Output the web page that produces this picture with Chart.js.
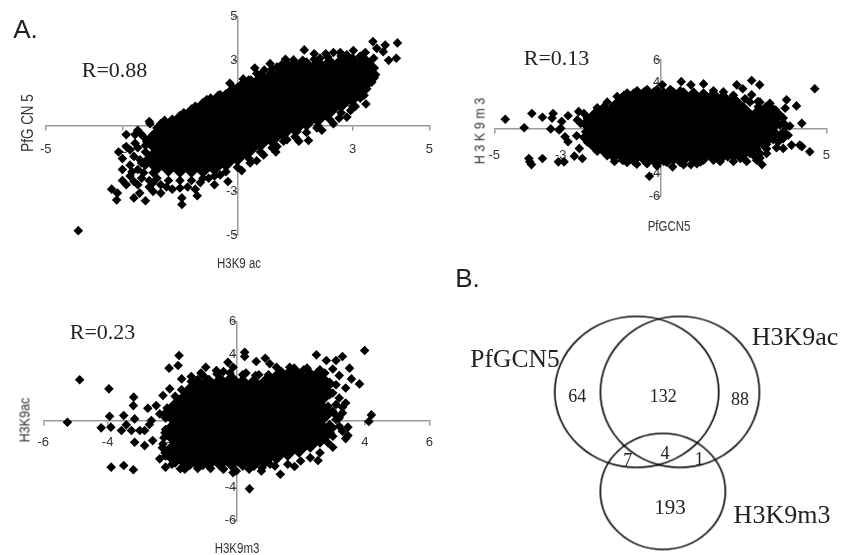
<!DOCTYPE html>
<html>
<head>
<meta charset="utf-8">
<script src="https://cdn.jsdelivr.net/npm/chart.js@4"></script>
<style>
  html, body { margin: 0; background: #fff; }
  #page { position: relative; width: 845px; height: 555px; overflow: hidden; filter: blur(0.35px); }
  canvas { position: absolute; left: 0; top: 0; }
  .t { position: absolute; white-space: nowrap; transform: translate(-50%, -50%); color: #222; line-height: 1; }
  .serif { font-family: "Liberation Serif", serif; }
  .letter { font-family: "Liberation Sans", sans-serif; font-size: 26px; color: #222; }
  .ax { font-family: "Liberation Sans", sans-serif; font-size: 14px; color: #333; transform: translate(-50%, -50%) scaleX(0.82); }
  .rot { transform: translate(-50%, -50%) rotate(-90deg) scaleX(0.84); }
</style>
</head>
<body>
<div id="page">
  <canvas id="panelA1" width="845" height="555"></canvas>
  <canvas id="panelA2" width="845" height="555"></canvas>
  <canvas id="panelA3" width="845" height="555"></canvas>
  <canvas id="venn" width="845" height="555"></canvas>
</div>
<script>
// Los puntos se leyeron a ojo de la figura. La nube es tan densa que "core" usa
// rombos grandes para la zona negra y "edge" los rombos sueltos del borde.
const a1Core = [[-2.1,-1.55],[-2.1,-.7],[-1.8,-1.65],[-1.8,-.85],[-1.8,-.35],[-1.5,-1.7],[-1.5,-.9],[-1.5,-.1],[-1.5,0],[-1.2,-1.7],[-1.2,-.9],[-1.2,-.1],[-1.2,.3],[-.9,-1.7],[-.9,-.9],[-.9,-.1],[-.9,.6],[-.6,-1.6],[-.6,-.8],[-.6,0],[-.6,.75],[-.3,-1.4],[-.3,-.6],[-.3,.2],[-.3,1],[0,-1.15],[0,-.4],[0,.4],[0,1.3],[.3,-.8],[.3,0],[.3,.8],[.3,1.55],[.6,-.5],[.6,.3],[.6,1.1],[.6,1.8],[.9,-.3],[.9,.5],[.9,1.3],[.9,2],[1.2,0],[1.2,.8],[1.2,1.5],[1.2,2.2],[1.5,.2],[1.5,1],[1.5,1.7],[1.5,2.4],[1.8,.45],[1.8,1.2],[1.8,1.9],[1.8,2.45],[2.1,.65],[2.1,1.4],[2.1,2.1],[2.1,2.5],[2.4,1],[2.4,1.8],[2.4,2.55],[2.7,1.3],[2.7,2],[2.7,2.6],[3,1.6],[3,2.2],[3,2.65],[3.3,2.2],[3.3,2.65]];
const a1Edge = [[-4.15,-4.8],[-3.28,-2.9],[-3.15,-3.4],[-3.13,-3.08],[-2.7,-3.3],[-2.4,-3.43],[-3,-2.5],[-2.7,-2.55],[-2.55,-3.08],[-2.2,-3],[-2,-3.08],[-1.45,-3.6],[-1.45,-3.3],[-1.05,-3.2],[-.97,-2.6],[-.25,-2.55],[-.45,-2.25],[.11,-2.05],[-1.5,-2.85],[-1.85,-2.8],[-.75,-2.4],[-2.9,-.4],[-2.67,-.4],[-3.1,-1.2],[-3,-1.5],[-2.9,-.95],[-2.67,-.8],[-2.7,-1.4],[-2.3,.2],[-2.28,.1],[-1.9,.25],[-2.2,-.4],[-2.35,-.8],[-2.1,-.8],[-2.54,-1.55],[-2.6,-2],[-2.8,-2.3],[-2.45,-2.15],[-2.2,-2.15],[-2.27,-1.4],[-1.97,-.5],[-1.75,-.3],[-1.5,.43],[-1.23,.6],[-.97,.9],[-.7,1.27],[-.45,1.42],[-.1,1.72],[.29,2.1],[.5,2.4],[.7,2.56],[1.03,2.7],[1.15,2.8],[1.46,3.02],[1.74,3.48],[1.68,2.95],[2.15,3.1],[2.5,3.36],[2.68,3.36],[3.02,3.45],[2.85,3.25],[3.33,3.36],[3.53,3.86],[3.63,3.55],[3.85,3.7],[3.8,3.4],[4.17,3.8],[4.14,3.1],[3.94,3],[3.55,3.1],[3.46,2.7],[3.6,2.34],[3.42,1.95],[3.2,2.26],[3.2,1.27],[3.07,.89],[2.85,.4],[2.72,1.1],[2.5,1.5],[2.42,.9],[2.15,.5],[2.07,-.1],[1.85,-.67],[1.55,-.26],[1.29,-.64],[1.03,-.95],[.68,-1.33],[.33,-1.7],[2.94,1.34],[3.37,1.7],[2.85,1.8],[2.24,1.2],[-2.4,-1.8],[-2.4,-1.2],[-2.4,-.9],[-2.5,-2.4],[-2.1,-2.4],[-1.8,-2.5],[-1.5,-2.5],[-1.2,-2.5],[-.9,-2.4],[-.6,-2.3],[-.3,-2.1],[0,-1.9],[.3,-1.5],[.6,-1.2],[.9,-1],[1.2,-.7],[1.5,-.5],[1.8,-.3],[2.1,0],[2.4,.3],[2.7,.6],[3,.9],[3.3,1.4],[3.5,2],[-2,.1],[-1.7,.3],[-1.4,.6],[-1.1,.9],[-.8,1.2],[-.5,1.4],[-.2,1.6],[.1,1.9],[.35,2.1],[.6,2.35],[.9,2.6],[1.3,2.85],[1.7,3],[2,3.05],[2.35,3.15],[2.7,3.2],[3.2,3.2],[-2.6,-1],[-2.8,-1.8],[-3,-2],[-2.2,-2.6],[-1.9,-.2],[-2.5,-.4],[-2.9,-2.7],[-2.6,-2.7],[-2.3,-2.5],[-2,-2.7],[-1.7,-2.9],[-1.3,-2.8],[-1.1,-2.9],[-.6,-2.7],[-2.3,-2.8],[-2.75,-2.1],[-2.5,-1.7],[-2.8,-1.1],[-2.45,-.5],[-2.6,-.2],[-2.1,-.1],[-.2,1.95],[.15,2.15],[.45,2.65],[.85,2.85],[1.25,3.05],[2,3.3],[2.3,3.3],[2.9,3.1],[1.6,-.7],[2.2,-.2],[2.5,.1],[2.65,.35],[2.95,.7],[3.15,1.6],[3.35,1],[1,-1.2],[.5,-1.6]];

const a2Core = [[-2,-.8],[-2,.4],[-1.7,-1.2],[-1.7,0],[-1.7,1],[-1.4,-1.7],[-1.4,-.3],[-1.4,1.1],[-1.1,-1.9],[-1.1,-.6],[-1.1,.8],[-1.1,2],[-.8,-2],[-.8,-.5],[-.8,1],[-.8,2.2],[-.5,-1.9],[-.5,-.5],[-.5,.9],[-.5,2.3],[-.2,-2],[-.2,-.6],[-.2,.8],[-.2,2.3],[.1,-2],[.1,-.5],[.1,1],[.1,2.3],[.4,-1.9],[.4,-.6],[.4,.8],[.4,2.3],[.7,-2],[.7,-.5],[.7,1],[.7,2.3],[1,-1.9],[1,-.6],[1,.8],[1,2.3],[1.3,-1.9],[1.3,-.5],[1.3,1],[1.3,2.2],[1.6,-1.8],[1.6,-.6],[1.6,.8],[1.6,2.2],[1.9,-1.6],[1.9,-.3],[1.9,1],[1.9,2],[2.2,-1.6],[2.2,-.5],[2.2,.7],[2.2,1.8],[2.5,-1.2],[2.5,0],[2.5,1],[2.8,-.9],[2.8,.2],[3.1,-.6],[3.1,.5]];
const a2Edge = [[-4.67,.8],[-4.1,.05],[-3.87,1.3],[-3.55,.97],[-3.3,-.05],[-3.23,1.3],[-3.26,.9],[-2.97,.6],[-3,0],[-3.05,-.15],[-2.78,1.1],[-2.46,1.47],[-2.3,1.3],[-2.5,.74],[-2.4,.44],[-2.87,-.74],[-2.78,-1.18],[-2.52,-.65],[-2.44,-1.76],[-2.59,-2.44],[-2.35,-2.65],[-3.96,-2.65],[-3.93,-2.94],[-3.88,-3.18],[-3.55,-2.65],[-3.07,-2.94],[-2.9,-2.94],[4.65,3.47],[2.75,4.2],[2.99,3.82],[2.3,3.82],[2.48,3.47],[2.75,2.94],[.92,3.82],[.63,4.1],[1.3,3.9],[.06,3.82],[3.8,2.5],[3.76,1.76],[4.1,1.97],[4.26,.44],[3.8,.15],[3.7,-.9],[3.7,-1.76],[3.95,-1.47],[4.2,-1.47],[4.26,-1.6],[4.5,-2.06],[3.06,-3.18],[2.8,-2.35],[2.41,-2.65],[2.03,-2.5],[.92,-3.18],[.37,-3.38],[-.33,-4.2],[-.71,-3.15],[-1.38,-2.9],[-1.14,-2.8],[1.21,-2.94],[3.47,1.6],[3.18,1.9],[2.94,2.35],[-2.2,.9],[-2.25,-.3],[-2.2,-1.2],[-1.9,1.8],[-1.6,2.3],[-1.3,2.8],[-1,3.1],[-.7,3.3],[-.4,3.4],[-.1,3.4],[.3,3.4],[.6,3.3],[1.6,3.3],[1.9,3.2],[2.2,2.9],[-1.9,-2],[-1.6,-2.4],[-.1,-3.1],[.2,-3],[.6,-3],[1.6,-2.8],[2.9,-1.8],[3.2,-1.4],[3.4,-1],[3.5,.8],[3.3,1.2],[3.4,-.2],[3.6,.3],[3,1.6],[3.3,2.2],[3.6,1.2],[3.5,-1.7],[3.2,-2.2],[2.9,-2.8],[2.6,-2.9],[3.6,-.6],[2.9,1.5],[3.1,1],[3.3,.6],[3.5,.3],[3.7,.5],[3.9,.2],[3.3,-.1],[3.5,-.5],[3.7,-.3],[3.85,-.6],[3.3,-.8],[3.55,-1.2],[3.2,-1.8],[3,-2.2],[3,-2.6],[2.7,-2.2],[2.5,-2.4],[2.85,-1.4],[3.1,-1.1],[2.95,1.9],[3.2,1.5],[3.45,1.1],[3.7,.9],[2.7,2.3],[2.55,2.6],[3,2.3],[3.4,1.7],[1.8,-2.9],[1.1,-3.1],[-.4,-3.1],[-1,-3],[.7,-3.2],[-.1,-3.3],[2.2,-2.9]];

const a3Core = [[-1.9,-1.9],[-1.9,-.7],[-1.9,.5],[-1.55,-2.1],[-1.55,-1.3],[-1.55,-.1],[-1.55,1.1],[-1.2,-2.1],[-1.2,-.9],[-1.2,.3],[-1.2,1.5],[-1.2,1.9],[-.85,-2.1],[-.85,-1.5],[-.85,-.3],[-.85,.9],[-.85,1.9],[-.5,-2.1],[-.5,-.9],[-.5,.3],[-.5,1.5],[-.5,2],[-.15,-2.1],[-.15,-1.5],[-.15,-.3],[-.15,.9],[-.15,2.1],[.2,-2.1],[.2,-.9],[.2,.3],[.2,1.5],[.2,1.9],[.55,-2.1],[.55,-1.5],[.55,-.3],[.55,.9],[.55,1.9],[.9,-1.9],[.9,-.9],[.9,.3],[.9,1.5],[.9,1.9],[1.25,-1.7],[1.25,-.5],[1.25,.7],[1.25,1.9],[1.25,2.2],[1.6,-1.5],[1.6,-.3],[1.6,.9],[1.6,2.1],[1.6,2.3],[1.95,-1.3],[1.95,-.1],[1.95,1.1],[1.95,2.3],[2.3,-1],[2.3,.2],[2.3,1.4],[2.3,2.3],[2.6,-.7],[2.6,.5],[2.6,1.7],[2.6,2.2]];
const a3Edge = [[-5.25,-.06],[-4.87,2.5],[-3.96,1.95],[-4.2,-.4],[-3.94,.3],[-3.9,-.36],[-3.89,-2.77],[-3.5,-2.67],[-3.2,-2.93],[-3.5,.34],[-3.57,-.56],[-3.42,-.22],[-3.26,-.56],[-3.16,.14],[-3.16,-1.27],[-3.19,1.45],[-3.2,.94],[-3,-.56],[-2.85,-.56],[-2.85,-1.47],[-2.75,.78],[-2.64,.04],[-2.7,-.2],[-2.6,-1.17],[-2.49,.94],[-2.28,1.55],[-2.38,.44],[-2.28,-1.37],[-2.38,-2.27],[-2.2,-2.77],[-2.07,-.36],[-2.07,1.95],[-2.09,3.2],[-1.81,3.36],[-1.78,3.96],[-1.7,2.55],[-1.74,-2.87],[-1.45,-2.67],[-1.04,-2.67],[-.41,-2.87],[-.1,-3.1],[-.95,3.25],[-.62,3.05],[.26,4.16],[.26,3.9],[-.26,3.55],[-.1,3.25],[.62,3.6],[.9,3.8],[1.04,3.46],[1.25,3.25],[1.66,3.25],[2.49,4],[2.8,3.66],[3.1,3.66],[3.3,3.9],[3.52,3.2],[3.58,2.55],[3.83,2.25],[3.99,4.26],[4.2,.38],[4.12,-.02],[3.47,-.36],[3.47,-.86],[3.4,-1.05],[3,-1.57],[2.54,-2.37],[1.81,-2.73],[1.37,-3.2],[.78,-3],[.41,-4.08],[1.05,-2.6],[3.3,.84],[3.1,.34],[2.85,.9],[2.9,2.35],[3.2,2.75],[3,3.15],[2.5,2.9],[2.1,3.1],[1.8,3],[-1.4,2.7],[-1.1,2.9],[-.4,3],[.3,2.9],[.7,2.8],[3.1,1],[3,-.4],[2.8,-.9],[3.2,.2],[3,.6],[3.1,.1],[3.2,-.3],[3.3,-.6],[2.9,-.2],[3,-.9],[2.8,.4],[3.3,.5],[3.4,1.1],[3.2,1.4],[3,1.7],[3.4,2],[3.1,2.2],[2.9,1.6],[2.85,-1.3],[2.6,-1.9],[2.3,-2.2],[2,-2.4],[1.6,-2.6],[1.2,-2.7],[.8,-2.8],[.4,-2.9],[0,-3],[-.4,-2.9],[-.8,-2.85],[-1.2,-2.85],[-1.6,-2.9],[-2,-2.6],[-2.2,-2.1],[-2.3,-1.6],[-2.25,-1],[-2.2,-.5],[-2.2,.2],[-2.15,.8],[-1.9,1.5],[-1.7,1.9],[-1.4,2.4],[-1,2.7],[-.6,2.85],[-.2,2.9],[.2,2.8],[.6,2.75],[1,2.8],[1.4,3],[1.8,3.2],[2.2,3.2],[2.6,3.1],[2.75,2.9]];

const aTicks = [-5, 5, 2];
const bTicks = [-6, 6, 2];

const vennX = [639.3, 683, 665.7];
const vennY = [394, 394, 495.3];
const vennW = [164, 159, 125];
const vennH = [151, 151, 116];

const diamond = "#000";
const axisGrey = "#999";
const tickFont = { family: "'Liberation Sans',sans-serif", size: 13 };

function scatterPanel(id, box, xr, yr, labelGap, core, edge) {
  const toPts = (arr) => arr.map((p) => ({ x: p[0], y: p[1] }));
  const axis = (range, pos, extra) => ({
    type: "linear",
    min: range[0],
    max: range[1],
    position: pos,
    grid: { drawOnChartArea: false, color: axisGrey, tickLength: 4, lineWidth: 1.5 },
    border: { color: axisGrey, width: 1.5 },
    ticks: { stepSize: range[2], autoSkip: false, maxRotation: 0, color: "#333", font: tickFont, ...extra },
  });
  new Chart(document.getElementById(id), {
    type: "scatter",
    data: {
      datasets: [
        { data: toPts(core), pointStyle: "rectRot", pointRadius: 15, backgroundColor: diamond, borderWidth: 0, clip: false },
        { data: toPts(edge), pointStyle: "rectRot", pointRadius: 4.8, backgroundColor: diamond, borderWidth: 0, clip: false },
      ],
    },
    options: {
      responsive: false,
      animation: false,
      layout: { padding: { left: box[0], top: box[1], right: 845 - box[2], bottom: 555 - box[3] } },
      plugins: { legend: { display: false }, tooltip: { enabled: false } },
      scales: {
        x: axis(xr, { y: 0 }, { padding: labelGap }),
        y: axis(yr, { x: 0 }, { padding: 4 }),
      },
    },
  });
}

scatterPanel("panelA1", [45.7, 16.7, 429.3, 235], aTicks, aTicks, 12, a1Core, a1Edge);
scatterPanel("panelA2", [494.3, 60, 841.7, 196.7], aTicks, bTicks, 15, a2Core, a2Edge);
scatterPanel("panelA3", [43.3, 321.7, 429.3, 520.7], bTicks, bTicks, 9, a3Core, a3Edge);

// Diagrama de Venn: cada círculo es un punto cuyo estilo es una elipse dibujada aparte
function ellipseStyle(w, h) {
  const c = document.createElement("canvas");
  c.width = w + 4;
  c.height = h + 4;
  const ctx = c.getContext("2d");
  ctx.strokeStyle = "#000";
  ctx.lineWidth = 1.6;
  ctx.beginPath();
  ctx.ellipse(c.width / 2, c.height / 2, w / 2, h / 2, 0, 0, Math.PI * 2);
  ctx.stroke();
  return c;
}

new Chart(document.getElementById("venn"), {
  type: "scatter",
  data: {
    datasets: [
      {
        data: vennX.map((x, i) => ({ x: x, y: vennY[i] })),
        pointStyle: vennW.map((w, i) => ellipseStyle(w, vennH[i])),
        clip: false,
      },
    ],
  },
  options: {
    responsive: false,
    animation: false,
    layout: { padding: 0 },
    plugins: { legend: { display: false }, tooltip: { enabled: false } },
    scales: {
      x: { type: "linear", min: 0, max: 845, display: false },
      y: { type: "linear", min: 0, max: 555, reverse: true, display: false },
    },
  },
});

// Textos sueltos
const page = document.getElementById("page");
function put(text, x, y, cls, size) {
  const d = document.createElement("div");
  d.className = "t " + cls;
  d.textContent = text;
  d.style.left = x + "px";
  d.style.top = y + "px";
  if (size) d.style.fontSize = size + "px";
  page.appendChild(d);
}
put("A.", 25.5, 29, "letter");
put("B.", 467.5, 278, "letter");
put("R=0.88", 114.5, 70, "serif", 22);
put("R=0.13", 556.5, 58, "serif", 22);
put("R=0.23", 102.5, 332, "serif", 22);
put("H3K9 ac", 238.5, 263, "ax");
put("PfGCN5", 668.5, 226, "ax");
put("H3K9m3", 236.5, 548, "ax");
put("PfG CN 5", 28, 123, "ax rot", 16);
put("H 3 K 9 m 3", 479, 131, "ax rot", 15);
put("H3K9ac", 24, 420, "ax rot", 15);
put("PfGCN5", 515, 359, "serif", 25.5);
put("H3K9ac", 795, 337, "serif", 26);
put("H3K9m3", 782, 515, "serif", 26);
put("64", 577.3, 396, "serif", 18);
put("132", 663.3, 396, "serif", 18);
put("88", 740, 399.3, "serif", 18);
put("7", 627.7, 460, "serif", 18);
put("4", 665, 452.7, "serif", 18);
put("1", 699.3, 459.3, "serif", 18);
put("193", 670, 507.3, "serif", 21);
</script>
</body>
</html>
